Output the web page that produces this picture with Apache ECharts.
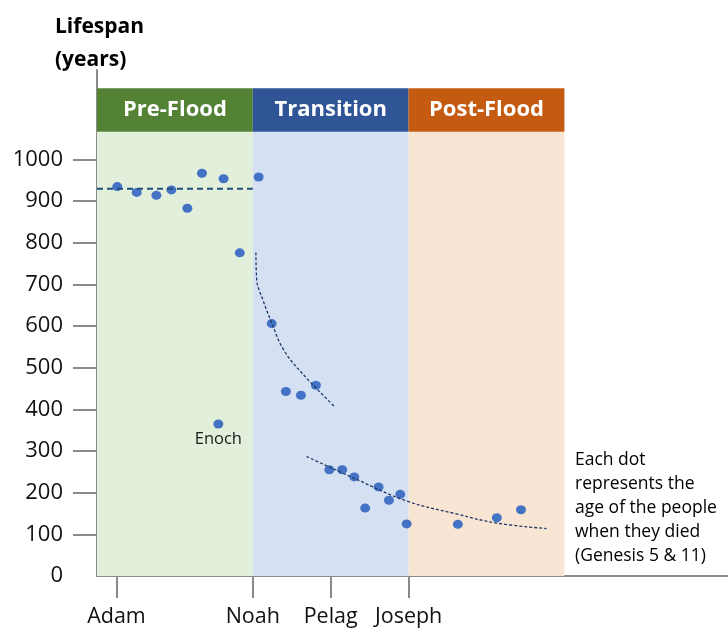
<!DOCTYPE html>
<html>
<head>
<meta charset="utf-8">
<script src="https://cdn.jsdelivr.net/npm/echarts@6/dist/echarts.min.js"></script>
<style>
html,body{margin:0;padding:0;background:#fff;}
#chart{width:728px;height:628px;}
</style>
</head>
<body>
<div id="chart"></div>
<script>
// ---- data ----
var eras = ['Pre-Flood', 'Transition', 'Post-Flood'];
var eraBounds = [0, 8, 16, 24];
var headerRange = [1067, 1171];
var headerColors = ['#548235', '#2F5597', '#C55A11'];
var bgColors = ['#E2EFDA', '#D6E0F3', '#F8E5D4'];

var tickPositions = [1, 8, 12, 16];
var tickNames = ['Adam', 'Noah', 'Pelag', 'Joseph'];
var yTicks = [100, 200, 300, 400, 500, 600, 700, 800, 900, 1000];
var yLabels = [0, 100, 200, 300, 400, 500, 600, 700, 800, 900, 1000];

var dotX = [1.04, 2.04, 3.05, 3.82, 4.64, 5.39, 6.23, 6.50, 7.33, 8.30,
            8.97, 9.70, 10.47, 11.24,
            11.93, 12.59, 13.21, 13.77, 14.46, 14.99, 15.57, 15.90,
            18.53, 20.53, 21.77];
var dotY = [935, 921, 914, 927, 883, 967, 365, 954, 776, 958,
            606, 443, 434, 458,
            255, 255, 238, 163, 214, 182, 196, 125,
            124, 140, 159];
var dotNames = ['', '', '', '', '', '', 'Enoch', '', '', '',
                '', '', '', '',
                '', '', '', '', '', '', '', '',
                '', '', ''];

var preFloodAvg = 930;

var trend1X = [8.16, 8.20, 8.51, 8.97, 9.57, 10.51, 12.17];
var trend1Y = [777, 712, 664, 608, 544, 488, 408];

var trend2X = [10.76, 13.33, 15.90, 18.46, 20.52, 23.08];
var trend2Y = [287, 232, 180, 149, 127, 114];

var noteLines = ['Each dot', 'represents the', 'age of the people', 'when they died', '(Genesis 5 & 11)'];

// ---- build ----
var FONT = '"Open Sans", Lato, sans-serif';
function pairs(xs, ys) { return xs.map(function (x, i) { return [x, ys[i]]; }); }

var bgAreas = eras.map(function (e, i) {
  return [{ xAxis: eraBounds[i], yAxis: 0, itemStyle: { color: bgColors[i] } },
          { xAxis: eraBounds[i + 1], yAxis: headerRange[0] }];
});
var headerAreas = eras.map(function (e, i) {
  return [{ name: e, xAxis: eraBounds[i], yAxis: headerRange[0], itemStyle: { color: headerColors[i] } },
          { xAxis: eraBounds[i + 1], yAxis: headerRange[1] }];
});

var dots = dotX.map(function (x, i) {
  var item = { value: [x, dotY[i]] };
  if (dotNames[i]) {
    item.label = { show: true, formatter: dotNames[i], position: 'bottom', distance: 2,
                   color: '#1a1a1a', fontSize: 16.5, fontFamily: FONT };
  }
  return item;
});

var chart = echarts.init(document.getElementById('chart'), null, { renderer: 'canvas' });
chart.setOption({
  animation: false,
  title: {
    text: 'Lifespan\n(years)',
    left: 50, top: 6,
    textStyle: { fontFamily: FONT, fontWeight: 'bold', fontSize: 21, lineHeight: 33, color: '#000' }
  },
  graphic: [{
    type: 'text', left: 575, top: 448,
    style: { text: noteLines.join('\n'), fontFamily: FONT, fontSize: 17.5, lineHeight: 24, fill: '#000' }
  }],
  grid: { left: 97, right: 0, top: 70, bottom: 51 },
  xAxis: {
    type: 'value', min: 0, max: 32.4,
    splitLine: { show: false },
    axisLine: { show: true, lineStyle: { color: '#8a8a8a', width: 2 } },
    axisTick: { show: true, customValues: tickPositions, length: 22, lineStyle: { color: '#8a8a8a', width: 2 } },
    axisLabel: {
      customValues: tickPositions, margin: 30,
      formatter: function (v) { var i = tickPositions.indexOf(v); return i >= 0 ? tickNames[i] : ''; },
      fontFamily: FONT, fontSize: 21.5, color: '#111'
    }
  },
  yAxis: {
    type: 'value', min: 0, max: 1215,
    splitLine: { show: false },
    axisLine: { show: true, lineStyle: { color: '#8a8a8a', width: 2 } },
    axisTick: { show: true, customValues: yTicks, length: 24, lineStyle: { color: '#8a8a8a', width: 2 } },
    axisLabel: { customValues: yLabels, margin: 34, fontFamily: FONT, fontSize: 22, color: '#111',
                 formatter: function (v) { return String(v); } }
  },
  series: [
    {
      type: 'scatter', name: 'bands', data: [], silent: true, z: 1,
      markArea: { silent: true, data: bgAreas }
    },
    {
      type: 'scatter', name: 'headers', data: [], silent: true, z: 1,
      markArea: {
        silent: true, data: headerAreas,
        label: { show: true, position: 'inside', color: '#fff', fontFamily: FONT,
                 fontWeight: 'bold', fontSize: 22, padding: [3, 0, 0, 0] }
      }
    },
    {
      type: 'scatter', name: 'Lifespan', data: dots, z: 3,
      symbolSize: [10, 9],
      itemStyle: { color: '#4472C4', opacity: 1 }
    },
    {
      type: 'line', name: 'Pre-Flood average', z: 4, symbol: 'none',
      data: [[eraBounds[0], preFloodAvg], [eraBounds[1], preFloodAvg]],
      lineStyle: { color: '#1F4E79', width: 2, type: [6, 4] }
    },
    {
      type: 'line', name: 'Trend 1', z: 4, symbol: 'none', smooth: 0.4,
      data: pairs(trend1X, trend1Y),
      lineStyle: { color: '#1F3864', width: 1.3, type: [3, 2] }
    },
    {
      type: 'line', name: 'Trend 2', z: 4, symbol: 'none', smooth: 0.4,
      data: pairs(trend2X, trend2Y),
      lineStyle: { color: '#1F3864', width: 1.3, type: [3, 2] }
    }
  ]
});
</script>
</body>
</html>
